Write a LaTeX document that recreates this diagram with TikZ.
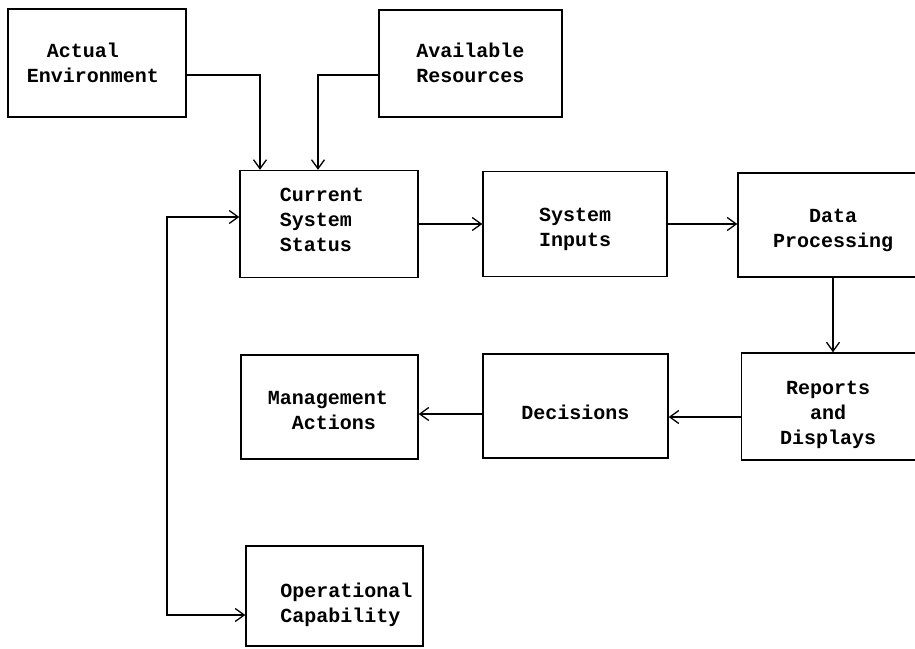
\documentclass[tikz,border=0pt]{standalone}
\usepackage{fontspec}
\newfontfamily\typewriter{Liberation Mono}
\usetikzlibrary{arrows.meta}
\begin{document}
\begin{tikzpicture}[
  x=1pt, y=-1pt,
  box/.style={draw, line width=1.4pt, inner sep=0pt},
  lbl/.style={font=\typewriter\bfseries\fontsize{20}{25}\selectfont, inner sep=0pt},
  flow/.style={line width=1.3pt, -{Straight Barb[length=9pt,width=13pt,line width=1.3pt]}},
  both/.style={line width=1.3pt, {Straight Barb[length=9pt,width=13pt,line width=1.3pt]}-{Straight Barb[length=9pt,width=13pt,line width=1.3pt]}}
]
\clip (0,0) rectangle (915,648);
\fill[white] (0,0) rectangle (915,648);

% top row of sources
\node[box, minimum width=178pt, minimum height=108pt,
      label={[lbl, align=left, xshift=-4pt]center:{\hspace*{1em}Actual\\Environment}}] (AE) at (97,63) {};
\node[box, minimum width=183pt, minimum height=107pt,
      label={[lbl, align=center, yshift=1pt]center:{Available\\Resources}}] (AR) at (470.5,63.5) {};

% processing chain
\node[box, minimum width=178pt, minimum height=107pt,
      label={[lbl, align=left, xshift=-7pt, yshift=4pt]center:{Current\\System\\Status}}] (CSS) at (329,224) {};
\node[box, minimum width=184pt, minimum height=105pt,
      label={[lbl, align=center, yshift=-5pt]center:{System\\Inputs}}] (SI) at (575,224) {};
\node[box, minimum width=190pt, minimum height=104pt,
      label={[lbl, align=center, yshift=-5pt]center:{Data\\Processing}}] (DP) at (833,225) {};

% output chain
\node[box, minimum width=183pt, minimum height=107pt,
      label={[lbl, align=center, xshift=-5pt, yshift=-8pt]center:{Reports\\and\\Displays}}] (RD) at (833,406.5) {};
\node[box, minimum width=185pt, minimum height=104pt,
      label={[lbl, align=center, yshift=-6pt]center:{Decisions}}] (DEC) at (575.5,406) {};
\node[box, minimum width=177pt, minimum height=104pt,
      label={[lbl, align=left, xshift=-1.5pt, yshift=-3.5pt]center:{Management\\\hspace*{1.2em}Actions}}] (MA) at (329.5,407) {};
\node[box, minimum width=177pt, minimum height=100pt,
      label={[lbl, align=left, xshift=12pt, yshift=-9pt]center:{Operational\\Capability}}] (OC) at (334.5,596) {};

% feedback line on the left
\coordinate (loop) at (167,400);

% connectors
\draw[flow] ([yshift=-12pt]AE.east) -| ([xshift=-69pt]CSS.north);
\draw[flow] ([yshift=-11.5pt]AR.west) -| ([xshift=-11pt]CSS.north);
\draw[flow] (CSS.east) -- (SI.west);
\draw[flow] (SI.east) -- (DP.west |- SI.east);
\draw[flow] (DP.south) -- (RD.north);
\draw[flow] ([yshift=-10.5pt]RD.west) -- (DEC.east |- 0,417);
\draw[flow] ([yshift=-8pt]DEC.west) -- (MA.east |- 0,414);
\draw[both] ([yshift=7pt]CSS.west) -| (loop) |- ([yshift=-19pt]OC.west);
\end{tikzpicture}
\end{document}
